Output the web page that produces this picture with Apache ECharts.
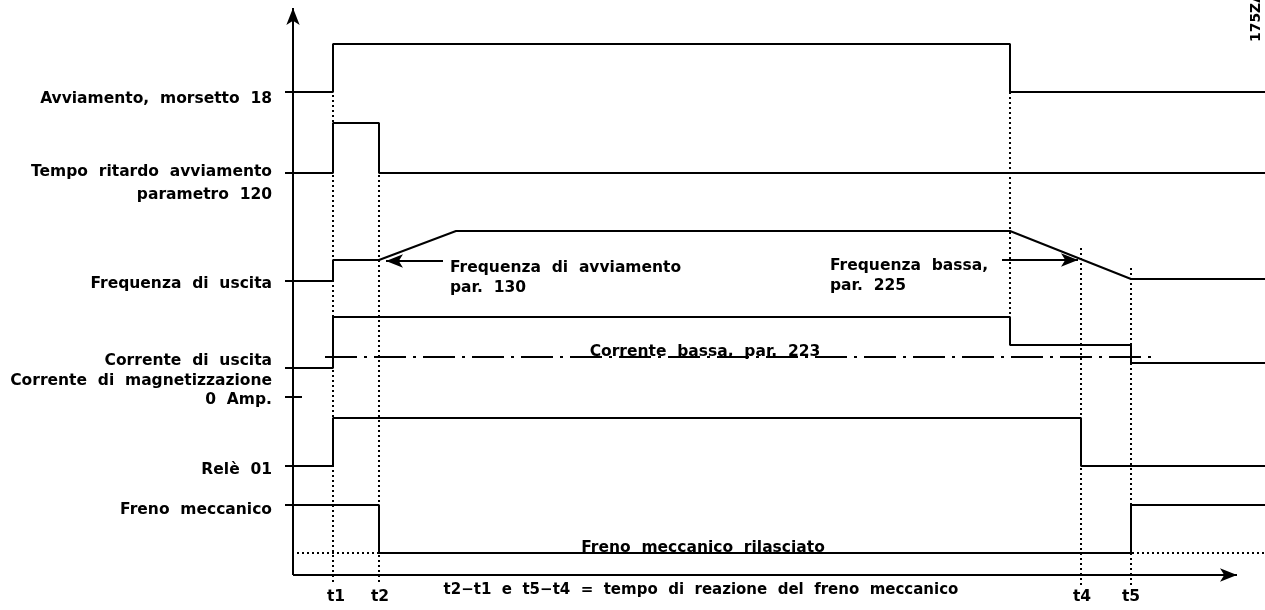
<!DOCTYPE html>
<html>
<head>
<meta charset="utf-8">
<script src="https://cdn.jsdelivr.net/npm/echarts@6/dist/echarts.min.js"></script>
<style>
  html, body { margin: 0; background: #fff; }
  #chart { width: 1265px; height: 610px; }
</style>
</head>
<body>
<div id="chart"></div>
<script>
// time instants (x units = px to the right of the vertical axis)
const T_START = -8, T1 = 40, T2 = 86, T_RAMP = 163, T_STOP = 717, T4 = 788, T5 = 838, T_END = 972;
const AXIS_X_END = 944, AXIS_Y_END = 567;

// signal traces [time, level]
const avviamento = [[T_START, 483], [T1, 483], [T1, 531], [T_STOP, 531], [T_STOP, 483], [T_END, 483]];
const ritardo = [[T_START, 402], [T1, 402], [T1, 452], [T2, 452], [T2, 402], [T_END, 402]];
const frequenza = [[T_START, 294], [T1, 294], [T1, 315], [T2, 315], [T_RAMP, 344], [T_STOP, 344], [T5, 296], [T_END, 296]];
const corrente = [[T_START, 207], [T1, 207], [T1, 258], [T_STOP, 258], [T_STOP, 230], [T5, 230], [T5, 212], [T_END, 212]];
const correnteBassa = [[32, 218], [864, 218]];
const zeroAmp = [[T_START, 178], [9, 178]];
const rele = [[T_START, 109], [T1, 109], [T1, 157], [T4, 157], [T4, 109], [T_END, 109]];
const freno = [[T_START, 70], [T2, 70], [T2, 22], [T5, 22], [T5, 70], [T_END, 70]];
const frenoRilasciato = [[4, 22], [T_END, 22]];

// dotted time markers [time, top, bottom]
const markers = [[T1, 480, -10], [T2, 400, -10], [T_STOP, 483, 258], [T4, 327, -10], [T5, 307, -10]];

const rowLabels = [
  ['Avviamento,  morsetto  18', 476],
  ['Tempo  ritardo  avviamento', 403],
  ['parametro  120', 380],
  ['Frequenza  di  uscita', 291],
  ['Corrente  di  uscita', 214],
  ['Corrente  di  magnetizzazione', 194],
  ['0  Amp.', 175],
  ['Relè  01', 105],
  ['Freno  meccanico', 65]
];
const timeLabels = [['t1', T1 + 3], ['t2', T2 + 1], ['t4', T4 + 1], ['t5', T5]];

const chart = echarts.init(document.getElementById('chart'));
const FONT = 'bold 15.5px "DejaVu Sans"';
const black = { color: '#000', width: 2 };

const trace = (data, style) => ({
  type: 'line',
  data,
  showSymbol: false,
  clip: false,
  silent: true,
  lineStyle: Object.assign({}, black, style || {})
});

const series = [
  trace(avviamento), trace(ritardo), trace(frequenza), trace(corrente),
  trace(correnteBassa, { width: 2, type: [32, 7, 3, 7] }),
  trace(zeroAmp), trace(rele), trace(freno),
  trace(frenoRilasciato, { width: 2, type: [2, 3] })
];
markers.forEach(m => series.push(trace([[m[0], m[1]], [m[0], m[2]]], { width: 2, type: [2, 3] })));

// axes and pointer arrows
series.push({
  type: 'line',
  data: [],
  markLine: {
    silent: true,
    symbol: ['none', 'arrow'],
    symbolSize: [10, 17],
    label: { show: false },
    lineStyle: { color: '#000', width: 2, type: 'solid' },
    data: [
      [{ coord: [0, 0] }, { coord: [0, AXIS_Y_END] }],
      [{ coord: [0, 0] }, { coord: [AXIS_X_END, 0] }],
      [{ coord: [150, 314] }, { coord: [93, 314] }],
      [{ coord: [709, 315] }, { coord: [785, 315] }]
    ]
  }
});

const hidden = {
  type: 'value',
  show: false,
  axisLine: { show: false },
  axisTick: { show: false },
  axisLabel: { show: false },
  splitLine: { show: false }
};

chart.setOption({
  animation: false,
  backgroundColor: '#fff',
  grid: { left: 0, right: 0, top: 0, bottom: 0 },
  xAxis: Object.assign({}, hidden, { min: -293, max: 972 }),
  yAxis: Object.assign({}, hidden, { min: -35, max: 575 }),
  series
});

const px = p => chart.convertToPixel({ gridIndex: 0 }, p);
const text = (s, p, align, vAlign, font) => {
  const [x, y] = px(p);
  return {
    type: 'text', x, y, silent: true,
    style: { text: s, font: font || FONT, fill: '#000', textAlign: align, textVerticalAlign: vAlign }
  };
};

const graphic = [];
rowLabels.forEach(([s, y]) => graphic.push(text(s, [-21, y], 'right', 'middle')));
timeLabels.forEach(([s, t]) => graphic.push(text(s, [t, -22], 'center', 'middle')));
graphic.push(text('t2\u2212t1  e  t5\u2212t4  =  tempo  di  reazione  del  freno  meccanico', [408, -15], 'center', 'middle', 'bold 15px "DejaVu Sans"'));
graphic.push(text('Frequenza  di  avviamento', [157, 307], 'left', 'middle'));
graphic.push(text('par.  130', [157, 287], 'left', 'middle'));
graphic.push(text('Frequenza  bassa,', [537, 309], 'left', 'middle'));
graphic.push(text('par.  225', [537, 289], 'left', 'middle'));
graphic.push(text('Corrente  bassa,  par.  223', [412, 215], 'center', 'bottom'));
graphic.push(text('Freno  meccanico  rilasciato', [410, 19], 'center', 'bottom'));
graphic.push({
  type: 'text', x: 1256, y: 17, rotation: Math.PI / 2, silent: true,
  style: { text: '175ZA', font: 'bold 14px "DejaVu Sans"', fill: '#000', textAlign: 'center', textVerticalAlign: 'middle' }
});

chart.setOption({ graphic });
</script>
</body>
</html>
